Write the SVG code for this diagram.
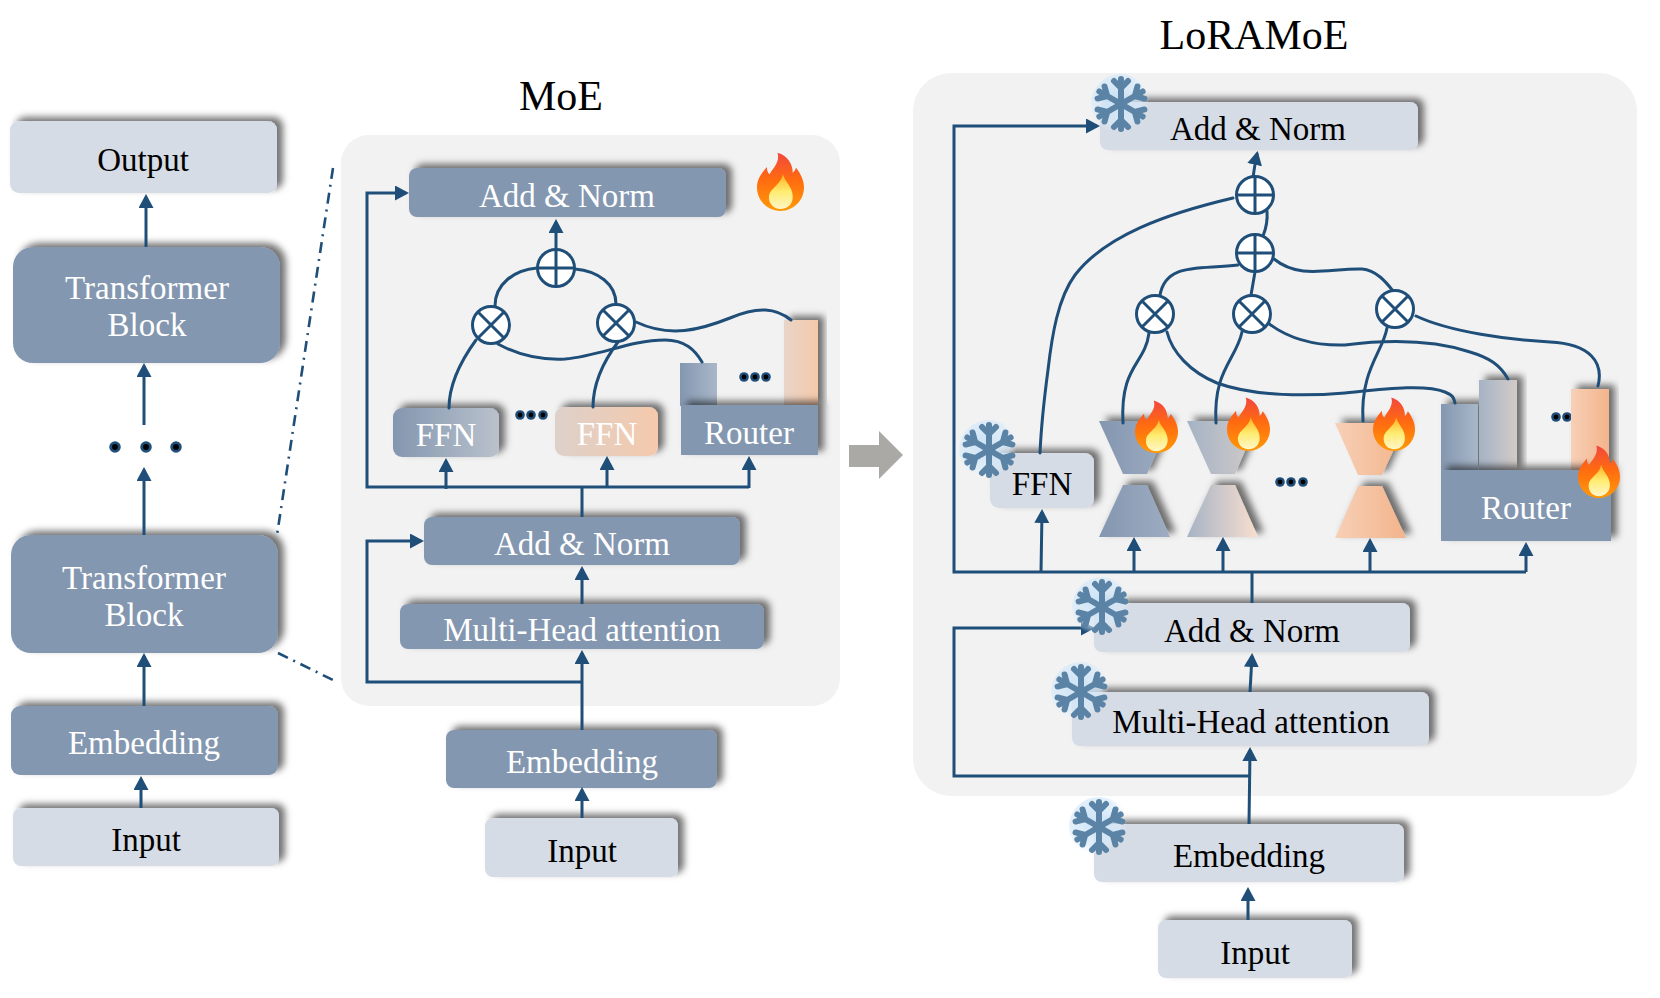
<svg xmlns="http://www.w3.org/2000/svg" xmlns:xlink="http://www.w3.org/1999/xlink" width="1660" height="998" viewBox="0 0 1660 998">
<style>
text{font-family:"Liberation Serif","Times New Roman",serif;font-size:33px;text-anchor:middle}
.t-lt{fill:#fff}
.t-dk{fill:#000}
.title{font-size:42px;fill:#000}
.dark{fill:#8497B0;filter:url(#sh)}
.light{fill:#D6DCE5;filter:url(#sh)}
.panel{fill:#F2F2F2}
.ln{fill:none;stroke:#1F4E79;stroke-width:3}
.arr{marker-end:url(#ah)}
.cv{fill:none;stroke:#1F4E79;stroke-width:3;stroke-linecap:round}
.dd{fill:none;stroke:#1F4E79;stroke-width:2.6;stroke-dasharray:11 6 2 6}
.sh{filter:url(#sh)}
</style>
<defs>
<filter id="sh" x="-20%" y="-35%" width="145%" height="170%"><feDropShadow dx="6" dy="-4" stdDeviation="3.6" flood-color="#000" flood-opacity="0.55"/></filter>
<filter id="soft" x="-30%" y="-30%" width="160%" height="160%"><feGaussianBlur stdDeviation="0.7"/></filter>
<marker id="ah" markerUnits="userSpaceOnUse" markerWidth="18" markerHeight="18" refX="11" refY="7.5" orient="auto"><path d="M0,0L14,7.5L0,15Z" fill="#1F4E79"/></marker>
<linearGradient id="gFfnA"><stop offset="0" stop-color="#8497B0"/><stop offset="1" stop-color="#B9C1CC"/></linearGradient>
<linearGradient id="gFfnB"><stop offset="0" stop-color="#DDD1CA"/><stop offset="1" stop-color="#F5C9AC"/></linearGradient>
<linearGradient id="gBarA"><stop offset="0" stop-color="#8497B0"/><stop offset="1" stop-color="#A9B7C9"/></linearGradient>
<linearGradient id="gBarB"><stop offset="0" stop-color="#E9D5C8"/><stop offset="1" stop-color="#F5C9AA"/></linearGradient>
<linearGradient id="gH1"><stop offset="0" stop-color="#8497B0"/><stop offset="1" stop-color="#9DACC2"/></linearGradient>
<linearGradient id="gH2"><stop offset="0" stop-color="#A5B3C5"/><stop offset="1" stop-color="#D2CBC8"/></linearGradient>
<linearGradient id="gH2b"><stop offset="0" stop-color="#A5B3C5"/><stop offset="1" stop-color="#F9DFCF"/></linearGradient>
<linearGradient id="gH3"><stop offset="0" stop-color="#F7D0B7"/><stop offset="1" stop-color="#F3B48B"/></linearGradient>
<linearGradient id="gFireOuter" x1="0" y1="0" x2="0" y2="1"><stop offset="0" stop-color="#F2483F"/><stop offset="0.45" stop-color="#FF6A10"/><stop offset="1" stop-color="#FF9A08"/></linearGradient>
<linearGradient id="gFireInner" x1="0" y1="0" x2="0" y2="1"><stop offset="0" stop-color="#FFB020"/><stop offset="0.5" stop-color="#FFEC70"/><stop offset="1" stop-color="#FFF6C8"/></linearGradient>
<radialGradient id="gFrost" cx="0.42" cy="0.4" r="0.55"><stop offset="0" stop-color="#C9E2F8" stop-opacity="0.95"/><stop offset="0.75" stop-color="#D8EAF9" stop-opacity="0.7"/><stop offset="1" stop-color="#E6F1FA" stop-opacity="0"/></radialGradient>
<!-- flame glyph on a 142 x 177 grid -->
<symbol id="fire" viewBox="0 0 142 177" preserveAspectRatio="none" overflow="visible">
<path fill="url(#gFireOuter)" d="M62,2C92,10 108,35 108,62C112,59 116,53 118,47C132,65 142,85 142,106C142,146 110,177 71,177C32,177 0,146 0,106C0,80 15,62 30,45C30,55 32,62 38,67C50,46 70,30 62,2Z"/>
<path fill="url(#gFireInner)" d="M78,66C84,90 108,104 108,134C108,156 92,171 71,171C50,171 36,156 36,136C36,118 50,110 60,98C70,88 76,80 78,66Z"/>
</symbol>
<!-- six-armed frost crystal centred on the origin -->
<g id="arm"><path d="M0,0V-25M-7,-23L0,-16L7,-23"/></g>
<g id="frost">
<circle r="30" fill="url(#gFrost)"/>
<g fill="none" stroke="#5A83A5" stroke-width="6" stroke-linecap="round" stroke-linejoin="round" filter="url(#soft)">
<use href="#arm"/><use href="#arm" transform="rotate(60)"/><use href="#arm" transform="rotate(120)"/><use href="#arm" transform="rotate(180)"/><use href="#arm" transform="rotate(240)"/><use href="#arm" transform="rotate(300)"/>
</g>
</g>
<g id="opPlus"><circle r="18.5" fill="#fff" stroke="#1F4E79" stroke-width="3"/><path d="M-18.5,0H18.5M0,-18.5V18.5" stroke="#1F4E79" stroke-width="3"/></g>
<g id="opMul"><circle r="18.5" fill="#fff" stroke="#1F4E79" stroke-width="3"/><path d="M-13,-13L13,13M-13,13L13,-13" stroke="#1F4E79" stroke-width="3"/></g>
<g id="dot"><circle r="4.8" fill="#1F4E79"/><circle r="2.4" fill="#000"/></g>
</defs>

<rect width="1660" height="998" fill="#fff"/>

<!-- panels -->
<rect id="panel-moe" class="panel" x="341" y="135" width="499" height="571" rx="28"/>
<rect id="panel-loramoe" class="panel" x="913" y="73" width="724" height="723" rx="38"/>
<text class="title" x="561" y="110">MoE</text>
<text class="title" x="1254" y="49">LoRAMoE</text>

<!-- base model -->
<g id="base-output"><rect class="light" x="10" y="121" width="267" height="72" rx="9"/><text class="t-dk" x="143" y="171">Output</text></g>
<g id="base-block-upper"><rect class="dark" x="13" y="247" width="267" height="116" rx="20"/><text class="t-lt" x="147" y="299">Transformer</text><text class="t-lt" x="147" y="336">Block</text></g>
<g id="base-block-lower"><rect class="dark" x="11" y="535" width="267" height="118" rx="20"/><text class="t-lt" x="144" y="589">Transformer</text><text class="t-lt" x="144" y="626">Block</text></g>
<g id="base-embedding"><rect class="dark" x="11" y="706" width="267" height="69" rx="9"/><text class="t-lt" x="144" y="754">Embedding</text></g>
<g id="base-input"><rect class="light" x="13" y="808" width="266" height="58" rx="8"/><text class="t-dk" x="146" y="851">Input</text></g>
<g id="base-dots"><use href="#dot" transform="translate(115,447) scale(1.2)"/><use href="#dot" transform="translate(146,447) scale(1.2)"/><use href="#dot" transform="translate(176,447) scale(1.2)"/></g>

<!-- MoE block -->
<g id="moe-add-top"><rect class="dark" x="409" y="168" width="317" height="49" rx="8"/><text class="t-lt" x="567" y="207">Add &amp; Norm</text></g>
<g id="moe-ffn-a"><rect x="393" y="408" width="106" height="49" rx="9" fill="url(#gFfnA)" class="sh"/><text class="t-lt" x="446" y="446">FFN</text></g>
<g id="moe-ffn-b"><rect x="555" y="407" width="103" height="49" rx="9" fill="url(#gFfnB)" class="sh"/><text class="t-lt" x="607" y="445">FFN</text></g>
<g id="moe-router">
<rect x="680" y="363" width="37" height="43" fill="url(#gBarA)"/>
<rect x="784" y="320" width="34" height="86" fill="url(#gBarB)" class="sh"/>
<rect class="dark" x="681" y="405" width="137" height="50"/>
<text class="t-lt" x="749" y="444">Router</text>
</g>
<g id="moe-dots"><use href="#dot" x="520" y="415"/><use href="#dot" x="531" y="415"/><use href="#dot" x="543" y="415"/><use href="#dot" x="744" y="377"/><use href="#dot" x="755" y="377"/><use href="#dot" x="766" y="377"/></g>
<g id="moe-add-bottom"><rect class="dark" x="424" y="517" width="316" height="48" rx="8"/><text class="t-lt" x="582" y="555">Add &amp; Norm</text></g>
<g id="moe-attention"><rect class="dark" x="400" y="604" width="364" height="45" rx="8"/><text class="t-lt" x="582" y="641">Multi-Head attention</text></g>
<g id="moe-embedding"><rect class="dark" x="446" y="730" width="271" height="58" rx="8"/><text class="t-lt" x="582" y="773">Embedding</text></g>
<g id="moe-input"><rect class="light" x="485" y="818" width="193" height="59" rx="8"/><text class="t-dk" x="582" y="862">Input</text></g>

<!-- LoRAMoE block -->
<g id="lora-add-top"><rect class="light" x="1100" y="102" width="318" height="48" rx="8"/><text class="t-dk" x="1258" y="140">Add &amp; Norm</text></g>
<g id="lora-ffn"><rect class="light" x="990" y="453" width="104" height="55" rx="9"/><text class="t-dk" x="1042" y="495">FFN</text></g>
<g id="lora-lora-a" class="sh"><path d="M1099,421H1170L1147,474H1123Z" fill="url(#gH1)"/><path d="M1123,485H1147L1170,537H1099Z" fill="url(#gH1)"/></g>
<g id="lora-lora-b" class="sh"><path d="M1187,421H1258L1235,474H1211Z" fill="url(#gH2)"/><path d="M1211,485H1235L1258,537H1187Z" fill="url(#gH2b)"/></g>
<g id="lora-lora-c" class="sh"><path d="M1335,423H1406L1382,475H1358Z" fill="url(#gH3)"/><path d="M1358,486H1382L1406,538H1335Z" fill="url(#gH3)"/></g>
<g id="lora-router">
<rect x="1441" y="404" width="37" height="67" fill="url(#gBarA)" class="sh"/>
<rect x="1479" y="380" width="38" height="91" fill="url(#gH2)" class="sh"/>
<g id="lora-router-dots"><use href="#dot" x="1556" y="417"/><use href="#dot" x="1567" y="417"/></g>
<rect x="1571" y="389" width="38" height="82" fill="url(#gH3)" class="sh"/>
<rect class="dark" x="1441" y="470" width="170" height="71"/>
<text class="t-lt" x="1526" y="519">Router</text>
</g>
<g id="lora-dots"><use href="#dot" x="1280" y="482"/><use href="#dot" x="1291" y="482"/><use href="#dot" x="1303" y="482"/></g>
<g id="lora-add-bottom"><rect class="light" x="1094" y="603" width="316" height="49" rx="8"/><text class="t-dk" x="1252" y="642">Add &amp; Norm</text></g>
<g id="lora-attention"><rect class="light" x="1072" y="692" width="357" height="54" rx="8"/><text class="t-dk" x="1251" y="733">Multi-Head attention</text></g>
<g id="lora-embedding"><rect class="light" x="1094" y="824" width="310" height="58" rx="8"/><text class="t-dk" x="1249" y="867">Embedding</text></g>
<g id="lora-input"><rect class="light" x="1158" y="920" width="194" height="58" rx="8"/><text class="t-dk" x="1255" y="964">Input</text></g>

<!-- connectors -->
<g id="connectors">
<path class="dd" d="M333,168L277,535"/>
<path class="dd" d="M278,653L335,681"/>
<path class="ln arr" d="M146,247V197"/>
<path class="ln arr" d="M144,425V366"/>
<path class="ln arr" d="M144,535V470"/>
<path class="ln arr" d="M144,706V656"/>
<path class="ln arr" d="M141,808V779"/>

<path class="ln arr" d="M582,818V790"/>
<path class="ln arr" d="M582,730V653"/>
<path class="ln arr" d="M582,682H367V541H421"/>
<path class="ln arr" d="M582,604V569"/>
<path class="ln" d="M582,517V487"/>
<path class="ln arr" d="M749,487H367V193H406"/>
<path class="ln arr" d="M446,489V461"/>
<path class="ln arr" d="M607,487V459"/>
<path class="ln arr" d="M749,488V459"/>
<path class="ln arr" d="M556,250V222"/>
<path class="cv" d="M537,268C514,270 495,284 495,306"/>
<path class="cv" d="M575,269C598,271 616,284 616,304"/>
<path class="cv" d="M476,340C460,362 449,385 449,408"/>
<path class="cv" d="M618,342C603,362 593,385 593,407"/>
<path class="cv" d="M498,344C520,356 545,360 565,359C600,356 630,340 665,340C685,340 695,350 702,362"/>
<path class="cv" d="M636,322C670,338 700,330 730,318C758,306 776,308 791,320"/>

<path class="ln arr" d="M1248,920V890"/>
<path class="ln arr" d="M1249,824L1250,750"/>
<path class="ln arr" d="M1250,776H954V628H1092"/>
<path class="ln arr" d="M1250,692L1252,656"/>
<path class="ln" d="M1252,603V572"/>
<path class="ln arr" d="M1526,572H954V126H1097"/>
<path class="ln arr" d="M1041,572L1042,512"/>
<path class="ln arr" d="M1134,572V540"/>
<path class="ln arr" d="M1223,572V540"/>
<path class="ln arr" d="M1370,572V541"/>
<path class="ln arr" d="M1526,572V545"/>
<path class="cv arr" d="M1253,178Q1255,163 1257,154"/>
<path class="cv" d="M1267,211Q1268,224 1263,236"/>
<path class="cv" d="M1255,272L1251,295"/>
<path class="cv" d="M1238,265C1200,270 1166,262 1160,295"/>
<path class="cv" d="M1274,259C1300,280 1330,268 1362,269C1376,270 1386,282 1393,291"/>
<path class="cv" d="M1233,198C1165,214 1105,236 1075,275C1058,298 1052,335 1048,370C1044,400 1041,430 1040,453"/>
<path class="cv" d="M1149,333C1145,365 1120,365 1123,423"/>
<path class="cv" d="M1167,332C1172,352 1190,372 1217,383C1255,397 1310,396 1345,393C1385,389 1425,384 1445,392C1452,395 1454,397 1455,403"/>
<path class="cv" d="M1242,332C1236,360 1213,370 1216,423"/>
<path class="cv" d="M1268,323C1285,336 1310,346 1345,345C1385,340 1430,339 1470,352C1490,358 1500,365 1508,379"/>
<path class="cv" d="M1387,328C1383,352 1360,370 1363,421"/>
<path class="cv" d="M1416,316C1450,332 1510,340 1550,342C1590,344 1604,362 1598,386"/>
</g>

<!-- operators -->
<g id="moe-operators"><use href="#opPlus" x="556" y="268"/><use href="#opMul" x="491" y="325"/><use href="#opMul" x="616" y="323"/></g>
<g id="lora-operators"><use href="#opPlus" x="1255" y="195"/><use href="#opPlus" x="1255" y="253"/><use href="#opMul" x="1155" y="314"/><use href="#opMul" x="1252" y="314"/><use href="#opMul" x="1395" y="309"/></g>

<!-- state badges -->
<g id="flames">
<use href="#fire" x="757" y="152" width="47" height="59"/>
<use href="#fire" x="1135" y="400" width="43" height="53"/>
<use href="#fire" x="1227" y="397" width="43" height="54"/>
<use href="#fire" x="1373" y="397" width="42" height="54"/>
<use href="#fire" x="1578" y="445" width="42" height="53"/>
</g>
<g id="snowflakes">
<use href="#frost" x="1121" y="104"/>
<use href="#frost" x="989" y="450"/>
<use href="#frost" x="1102" y="607"/>
<use href="#frost" x="1081" y="692"/>
<use href="#frost" x="1099" y="827"/>
</g>

<!-- transition arrow -->
<path id="transition" d="M849,445H879V431L903,455L879,479V467H849Z" fill="#ABA9A5"/>
</svg>
